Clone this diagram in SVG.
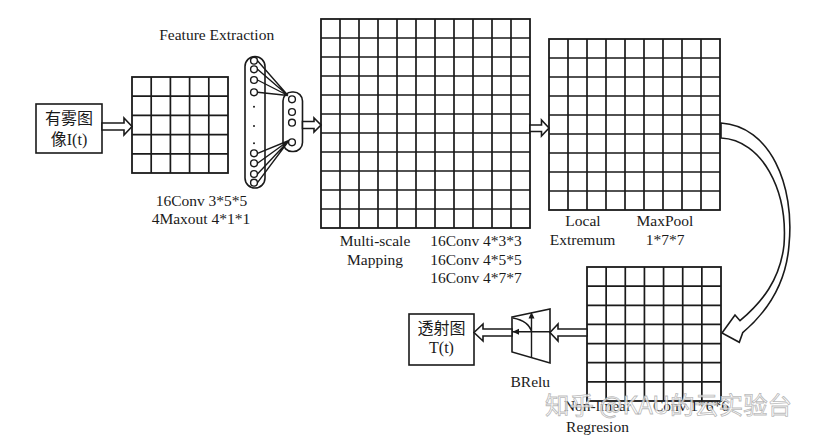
<svg xmlns="http://www.w3.org/2000/svg" width="814" height="438" viewBox="0 0 814 438">
<style>
.g{fill:#fff;stroke:#1a1a1a;stroke-width:1.8}
.box{fill:#fff;stroke:#1a1a1a;stroke-width:1.6}
.t{font-family:"Liberation Serif","Times New Roman",serif;font-size:15.5px;fill:#1a1a1a;text-anchor:middle}
.c{font-family:"Liberation Serif","Noto Sans CJK SC",serif;font-size:16px;fill:#1a1a1a;text-anchor:middle}
.arr{fill:#fff;stroke:#1a1a1a;stroke-width:1.6;stroke-linejoin:miter}
.ln{stroke:#1a1a1a;stroke-width:1.4;fill:none}
.gl{stroke:#1a1a1a;stroke-width:1.7;fill:none}
.n{fill:#fff;stroke:#1a1a1a;stroke-width:1.4}
.wm{font-family:"Noto Sans CJK SC",sans-serif;font-size:24px;fill:#fff;fill-opacity:0.75;stroke:#9a9a9a;stroke-width:0.8;stroke-opacity:0.7}
</style>
<rect width="814" height="438" fill="#fff"/>

<g id="input">
<rect class="box" x="36" y="104" width="66" height="49"/>
<text class="c" x="69" y="124">有雾图</text>
<text class="c" x="69" y="145">像I(t)</text>
</g>

<g id="grid1">
<rect class="g" x="132" y="77" width="96" height="96"/>
<path class="gl" d="M151.2,77V173M170.4,77V173M189.6,77V173M208.8,77V173M132,96.2H228M132,115.4H228M132,134.6H228M132,153.8H228"/>
<text class="t" x="201.5" y="206">16Conv 3*5*5</text>
<text class="t" x="201" y="224">4Maxout 4*1*1</text>
</g>

<g id="feature-extraction">
<text class="t" x="216.7" y="40">Feature Extraction</text>
<rect class="box" x="245" y="56.5" width="20" height="131.5" rx="10"/>
<rect class="box" x="283" y="92" width="19.5" height="59.5" rx="9"/>
<path class="ln" d="M257.5,60.7L288,95.5M257.5,69.3L288,95.5M257.5,80L288,95.5M257.5,92.3L288,95.5M257.5,153.3L289,140.5M257.5,163.3L289,140.5M257.5,174L289,140.5M257.5,182.7L289,140.5"/>
<circle class="n" cx="254" cy="60.7" r="3.4"/>
<circle class="n" cx="254" cy="69.3" r="3.4"/>
<circle class="n" cx="254" cy="80" r="3.4"/>
<circle class="n" cx="254" cy="92.3" r="3.4"/>
<circle cx="254" cy="106.7" r="1" fill="#1a1a1a"/>
<circle cx="254" cy="126" r="1" fill="#1a1a1a"/>
<circle cx="254" cy="143.3" r="1" fill="#1a1a1a"/>
<circle class="n" cx="254" cy="153.3" r="3.4"/>
<circle class="n" cx="254" cy="163.3" r="3.4"/>
<circle class="n" cx="254" cy="174" r="3.4"/>
<circle class="n" cx="254" cy="182.7" r="3.4"/>
<circle class="n" cx="292" cy="99.3" r="3.4"/>
<circle class="n" cx="292" cy="112" r="3.4"/>
<circle class="n" cx="292" cy="122.7" r="3.4"/>
<circle class="n" cx="292" cy="142.3" r="3.4"/>
</g>

<g id="grid2">
<rect class="g" x="321" y="19" width="209" height="209"/>
<path class="gl" d="M340,19V228M359,19V228M378,19V228M397,19V228M416,19V228M435,19V228M454,19V228M473,19V228M492,19V228M511,19V228M321,38H530M321,57H530M321,76H530M321,95H530M321,114H530M321,133H530M321,152H530M321,171H530M321,190H530M321,209H530"/>
<text class="t" x="375" y="246">Multi-scale</text>
<text class="t" x="375" y="264.5">Mapping</text>
<text class="t" x="476" y="246">16Conv 4*3*3</text>
<text class="t" x="476" y="264.5">16Conv 4*5*5</text>
<text class="t" x="476" y="283">16Conv 4*7*7</text>
</g>

<g id="grid3">
<rect class="g" x="549" y="39" width="171" height="171"/>
<path class="gl" d="M568,39V210M587,39V210M606,39V210M625,39V210M644,39V210M663,39V210M682,39V210M701,39V210M549,58H720M549,77H720M549,96H720M549,115H720M549,134H720M549,153H720M549,172H720M549,191H720"/>
<text class="t" x="583" y="226">Local</text>
<text class="t" x="582.5" y="245">Extremum</text>
<text class="t" x="665" y="226">MaxPool</text>
<text class="t" x="665" y="245">1*7*7</text>
</g>

<g id="grid4">
<rect class="g" x="587" y="267" width="134" height="134"/>
<path class="gl" d="M606.14,267V401M625.29,267V401M644.43,267V401M663.57,267V401M682.71,267V401M701.86,267V401M587,286.14H721M587,305.29H721M587,324.43H721M587,343.57H721M587,362.71H721M587,381.86H721"/>
<text class="t" x="597.5" y="411">Non-linear</text>
<text class="t" x="597.5" y="432">Regresion</text>
<text class="t" x="691" y="411">Conv 1*6*6</text>
</g>

<g id="brelu">
<polygon class="box" points="512,317 550,309 550,363 512,352"/>
<path class="ln" d="M512,331.8H550M531.5,358V316M513,318Q529,321 531.5,332"/>
<polygon points="531.5,312 528.5,318.5 534.5,318.5" fill="#1a1a1a"/>
<polygon points="512.5,331.8 519,328.8 519,334.8" fill="#1a1a1a"/>
<text class="t" x="530.3" y="387">BRelu</text>
</g>

<g id="output">
<rect class="box" x="409" y="314" width="65" height="51"/>
<text class="c" x="441.5" y="334">透射图</text>
<text class="c" x="441.5" y="353">T(t)</text>
</g>

<g id="connectors">
<polygon class="arr" points="102,123 124,123 124,118 132,126.5 124,135 124,130 102,130"/>
<polygon class="arr" points="302.5,121.5 314,121.5 314,118 321,125 314,132 314,128.5 302.5,128.5"/>
<polygon class="arr" points="530,125 541.5,125 541.5,120 549,128 541.5,136 541.5,131.5 530,131.5"/>
<path class="arr" stroke-width="2.3" d="M721,123C770,126 795,185 789,245C786,285 767,312 742.7,332.7L739.3,342.3L722,333L735,315L740,320.7C762,302 780,280 784,245C788,190 762,140 721,138Z"/>
<polygon class="arr" points="587,329 558,329 558,324 550,332.5 558,341 558,336 587,336"/>
<polygon class="arr" points="512,329 483,329 483,324 474,332.5 483,341 483,336 512,336"/>
</g>

<text class="wm" x="545" y="414" textLength="247" lengthAdjust="spacingAndGlyphs">知乎 @KAU的云实验台</text>
</svg>
